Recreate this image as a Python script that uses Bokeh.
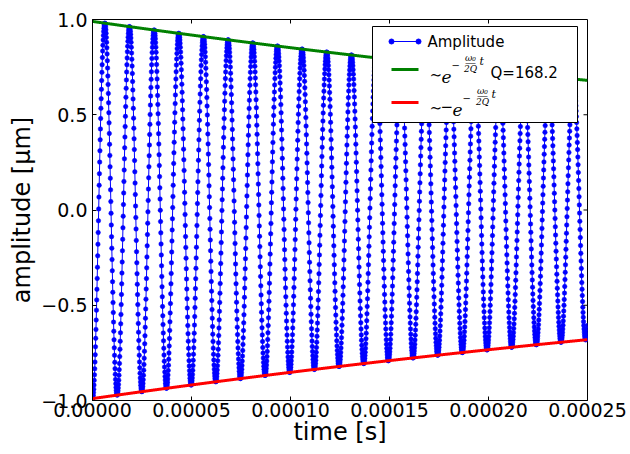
import numpy as np
from bokeh.plotting import figure
from bokeh.models import (Range1d, FixedTicker, PrintfTickFormatter, ColumnDataSource,
                          CustomJSTickFormatter, BoxAnnotation, Arrow)
from bokeh.embed import file_html
from bokeh.resources import INLINE

# ---- values ----
freq_hz = 80.3e3        # oscillation frequency (about 20 cycles in 0.25 ms)
q_factor = 168.2        # quality factor shown in the legend
amp0 = 0.99             # starting amplitude [um]
t_end = 0.00025         # end of record [s]
n_samples = 2000        # sample count (~100 points per cycle)

x_ticks = [0.0, 0.00005, 0.0001, 0.00015, 0.0002, 0.00025]
y_ticks = [-1.0, -0.5, 0.0, 0.5, 1.0]

# ---- series ----
t = np.linspace(0.0, t_end, n_samples + 1)
omega0 = 2 * np.pi * freq_hz
gamma = omega0 / (2 * q_factor)
envelope = amp0 * np.exp(-gamma * t)
amplitude = -envelope * np.cos(omega0 * t)

FONT = "DejaVu Sans"
SERIF = "DejaVu Serif"

# frame placement inside the canvas (pixels)
W, H = 630, 454
FL, FT, FR, FB = 92, 19, 587, 400

p = figure(width=W, height=H, output_backend="svg", toolbar_location=None,
           x_range=Range1d(0.0, t_end), y_range=Range1d(-1.0, 1.0),
           min_border_left=FL, min_border_right=W - FR, min_border_top=FT,
           min_border_bottom=H - FB)
p.background_fill_color = "white"
p.border_fill_color = "white"
p.outline_line_color = "black"
p.outline_line_width = 1
p.outline_line_alpha = 1.0
p.grid.visible = False

for ax in (p.xaxis[0], p.yaxis[0]):
    ax.major_tick_in = 4
    ax.major_tick_out = 0
    ax.minor_tick_in = 0
    ax.minor_tick_out = 0
    ax.axis_line_color = "black"
    ax.major_tick_line_color = "black"
    ax.major_label_text_font = FONT
    ax.major_label_text_font_size = "19px"
    ax.major_label_text_color = "black"
    ax.axis_label_text_font = FONT
    ax.axis_label_text_font_size = "24px"
    ax.axis_label_text_font_style = "normal"
    ax.axis_label_text_color = "black"

p.xaxis.ticker = FixedTicker(ticks=x_ticks)
p.xaxis.formatter = PrintfTickFormatter(format="%.5f")
p.xaxis.axis_label = "time [s]"
p.xaxis.major_label_standoff = 2
p.xaxis.axis_label_standoff = -2

p.yaxis.ticker = FixedTicker(ticks=y_ticks)
p.yaxis.formatter = CustomJSTickFormatter(
    code="return tick.toFixed(1).replace('-', '\u2212');")
p.yaxis.axis_label = "amplitude [\u03bcm]"
p.yaxis.major_label_standoff = 5
p.yaxis.axis_label_standoff = 2


# pixel -> data helpers for annotations
def lx(px):
    return (px - FL) / (FR - FL) * t_end


def ly(py):
    return 1.0 - (py - FT) / (FB - FT) * 2.0


TICK_DX = lx(FL + 4)
TICK_DY = 2.0 * 4 / (FB - FT)

# mirrored ticks on top and right
for xt in x_ticks[1:-1]:
    p.add_layout(Arrow(end=None, x_start=xt, y_start=1.0, x_end=xt, y_end=1.0 - TICK_DY,
                       line_color="black", line_width=1))
for yt in y_ticks[1:-1]:
    p.add_layout(Arrow(end=None, x_start=t_end, y_start=yt, x_end=t_end - TICK_DX,
                       y_end=yt, line_color="black", line_width=1))

# ---- glyphs ----
p.line(t, amplitude, line_color="blue", line_width=1)
p.scatter(t, amplitude, size=4.5, fill_color="blue", line_color="blue", line_alpha=0.5)
p.line(t, envelope, line_color="#008000", line_width=3)
p.line(t, -envelope, line_color="red", line_width=3)

# ---- legend (drawn at fixed pixel positions of the reference) ----
p.add_layout(BoxAnnotation(left=lx(372), right=lx(577), top=ly(26), bottom=ly(122),
                           fill_color="white", fill_alpha=1.0,
                           line_color="black", line_width=1, line_alpha=1.0,
                           level="annotation"))

for yy, col, wd in ((41, "blue", 1.2), (69, "#008000", 3), (102, "red", 3)):
    p.add_layout(Arrow(end=None, x_start=lx(391), y_start=ly(yy), x_end=lx(418),
                       y_end=ly(yy), line_color=col, line_width=wd, level="overlay"))

p.scatter(x=[lx(391), lx(418)], y=[ly(41), ly(41)], size=5,
          fill_color="blue", line_color="blue", level="overlay")

rows = [
    # x, y, text, size, font, style, align
    (427, 41, "Amplitude", "15px", FONT, "normal", "left"),
    (429, 74, "\u223c", "15px", SERIF, "normal", "left"),
    (441, 76, "e", "17px", SERIF, "italic", "left"),
    (451, 65, "\u2212", "10px", SERIF, "normal", "left"),
    (470, 57, "\u03c9\u2080", "9px", SERIF, "italic", "center"),
    (470, 62, "\u2014", "11px", SERIF, "normal", "center"),
    (470, 68, "2Q", "9px", SERIF, "italic", "center"),
    (479, 61, "t", "11px", SERIF, "italic", "left"),
    (490, 72, "Q=168.2", "15px", FONT, "normal", "left"),
    (429, 107, "\u223c", "15px", SERIF, "normal", "left"),
    (440, 106, "\u2212", "15px", SERIF, "normal", "left"),
    (452, 109, "e", "17px", SERIF, "italic", "left"),
    (462, 98, "\u2212", "10px", SERIF, "normal", "left"),
    (482, 90, "\u03c9\u2080", "9px", SERIF, "italic", "center"),
    (482, 95, "\u2014", "11px", SERIF, "normal", "center"),
    (482, 101, "2Q", "9px", SERIF, "italic", "center"),
    (491, 94, "t", "11px", SERIF, "italic", "left"),
]
src = ColumnDataSource(dict(
    x=[lx(r[0]) for r in rows], y=[ly(r[1]) for r in rows],
    text=[r[2] for r in rows], size=[r[3] for r in rows],
    font=[r[4] for r in rows], style=[r[5] for r in rows],
    align=[r[6] for r in rows]))
p.text(x="x", y="y", text="text", source=src, text_font_size="size",
       text_font="font", text_font_style="style", text_align="align",
       text_baseline="middle", text_color="black", level="overlay")

open("out.html", "w").write(file_html(p, INLINE))
